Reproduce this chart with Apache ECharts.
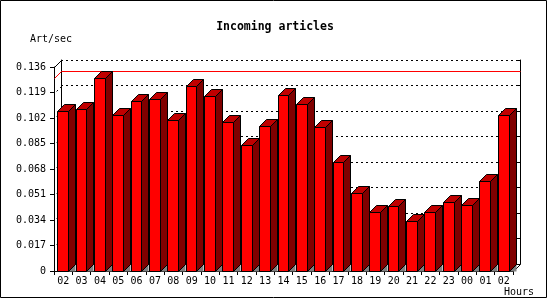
<!DOCTYPE html>
<html><head><meta charset="utf-8">
<script src="https://cdn.jsdelivr.net/npm/echarts@6/dist/echarts.min.js"></script>
<style>html,body{margin:0;padding:0;background:#fff}#c{width:550px;height:300px}</style>
</head><body><div id="c"></div>
<script>
const hours = ['02','03','04','05','06','07','08','09','10','11','12','13','14','15','16','17','18','19','20','21','22','23','00','01','02'];
const rates = [0.1067,0.1078,0.1285,0.1038,0.1131,0.1145,0.1005,0.1231,0.1165,0.0991,0.0838,0.0969,0.1171,0.1111,0.0958,0.0725,0.0518,0.0391,0.0431,0.0331,0.0391,0.0458,0.0438,0.0598,0.1038];
const yTickLabels = ['0','0.017','0.034','0.051','0.068','0.085','0.102','0.119','0.136'];
const yMin = 0, yMax = 0.136, yStep = 0.017;
const titleText = 'Incoming articles';
const yName = 'Art/sec';
const xName = 'Hours';

const D = 7;
const FONT = 'DejaVu Sans Mono';
const maxRate = Math.max(...rates);
const tickValues = yTickLabels.map(Number);
const px = v => Math.round(v) + 0.5;

const chart = echarts.init(document.getElementById('c'), null, {renderer: 'canvas'});

const option = {
  animation: false,
  backgroundColor: '#fff',
  title: {text: titleText, left: 'center', top: 21, padding: 0,
    textStyle: {fontFamily: FONT, fontWeight: 'bold', fontSize: 11.5, color: '#000'}},
  grid: [
    {left: 54, top: 67, right: 37, bottom: 29},
    {left: 61, top: 60, right: 30, bottom: 36}
  ],
  xAxis: [
    {type: 'category', gridIndex: 0, data: hours, boundaryGap: true,
     axisLine: {lineStyle: {color: '#000', width: 1}},
     axisTick: {show: true, length: 4, lineStyle: {color: '#000'}},
     axisLabel: {color: '#000', fontFamily: FONT, fontSize: 10, margin: 5, interval: 0},
     splitLine: {show: false}},
    {type: 'category', gridIndex: 1, data: hours, boundaryGap: true, position: 'top',
     axisLine: {lineStyle: {color: '#000', width: 1}},
     axisTick: {show: false}, axisLabel: {show: false}, splitLine: {show: false}}
  ],
  yAxis: [
    {type: 'value', gridIndex: 0, min: yMin, max: yMax, interval: yStep,
     axisLine: {show: true, lineStyle: {color: '#000'}},
     axisTick: {show: true, length: 4, lineStyle: {color: '#000'}},
     axisLabel: {color: '#000', fontFamily: FONT, fontSize: 10, margin: 8,
       formatter: v => yTickLabels[Math.round(v / yStep)]},
     splitLine: {show: false}},
    {type: 'value', gridIndex: 1, min: yMin, max: yMax, interval: yStep, position: 'left',
     axisLine: {show: true, lineStyle: {color: '#000'}},
     axisTick: {show: false}, axisLabel: {show: false},
     splitLine: {show: true, lineStyle: {color: '#000', width: 1, type: [2, 3]}}},
    {type: 'value', gridIndex: 1, min: yMin, max: yMax, interval: yStep, position: 'right',
     axisLine: {show: true, lineStyle: {color: '#000'}},
     axisTick: {show: true, inside: true, length: 3, lineStyle: {color: '#000'}},
     axisLabel: {show: false}, splitLine: {show: false}}
  ],
  graphic: [
    {type: 'rect', shape: {x: 0.5, y: 0.5, width: 546, height: 297}, style: {fill: null, stroke: '#000', lineWidth: 1}, z: 100},
    {type: 'text', x: 30, y: 39, style: {text: yName, fontFamily: FONT, fontSize: 10, fill: '#000', textAlign: 'left', textVerticalAlign: 'middle'}},
    {type: 'text', x: 534, y: 292, style: {text: xName, fontFamily: FONT, fontSize: 10, fill: '#000', textAlign: 'right', textVerticalAlign: 'middle'}}
  ],
  series: [
    {
      type: 'custom', xAxisIndex: 1, yAxisIndex: 1, z: 1, silent: true,
      data: tickValues.map(v => [0, v]),
      renderItem(params, api) {
        const v = api.value(1);
        const p = api.coord([0, v]);
        const band = api.size([1, 0])[0];
        const left = px(p[0] - band / 2);
        const y = px(p[1]);
        const children = [];
        if (v > 0) {
          children.push({type: 'line', shape: {x1: left, y1: y, x2: left - D, y2: y + D},
            style: {stroke: '#000', lineWidth: 1, lineDash: v >= yMax ? null : [2, 3]}});
        } else {
          const pr = api.coord([hours.length - 1, 0]);
          const right = px(pr[0] + band / 2);
          children.push({type: 'line', shape: {x1: right, y1: y, x2: right - D, y2: y + D},
            style: {stroke: '#000', lineWidth: 1}});
        }
        return {type: 'group', children};
      }
    },
    {
      type: 'custom', xAxisIndex: 1, yAxisIndex: 1, z: 3, silent: true,
      itemStyle: {color: '#ff0000'},
      data: [[0, maxRate]],
      renderItem(params, api) {
        const v = api.value(1);
        const p = api.coord([0, v]);
        const band = api.size([1, 0])[0];
        const left = px(p[0] - band / 2);
        const pr = api.coord([hours.length - 1, v]);
        const right = px(pr[0] + band / 2);
        const y = px(p[1]);
        return {type: 'group', children: [
          {type: 'line', shape: {x1: left, y1: y, x2: right, y2: y},
            style: {stroke: '#ff0000', lineWidth: 1}},
          {type: 'line', shape: {x1: left, y1: y, x2: left - D, y2: y + D},
            style: {stroke: '#ff0000', lineWidth: 1}}
        ]};
      }
    },
    {
      type: 'custom', xAxisIndex: 0, yAxisIndex: 0, z: 5, silent: true,
      data: rates.map((v, i) => [i, v]),
      renderItem(params, api) {
        const i = api.value(0), v = api.value(1);
        const top = api.coord([i, v]);
        const base = api.coord([i, 0]);
        const band = api.size([1, 0])[0];
        const start = top[0] - band / 2;
        const fl = px(start + band * 0.175);
        const fr = px(start + band * 0.76);
        const ty = px(top[1]);
        const by = px(base[1]);
        const st = {stroke: '#000', lineWidth: 1};
        return {type: 'group', children: [
          {type: 'polygon', shape: {points: [[fr, by], [fr + D, by - D], [fr + D, by]]},
            style: {fill: '#808080', stroke: null}},
          {type: 'polygon', shape: {points: [[fr, ty], [fr + D, ty - D], [fr + D, by - D], [fr, by]]},
            style: Object.assign({fill: '#800000'}, st)},
          {type: 'polygon', shape: {points: [[fl, ty], [fr, ty], [fr + D, ty - D], [fl + D, ty - D]]},
            style: Object.assign({fill: '#c00000'}, st)},
          {type: 'rect', shape: {x: fl, y: ty, width: fr - fl, height: by - ty},
            style: Object.assign({fill: '#ff0000'}, st)}
        ]};
      }
    }
  ]
};
chart.setOption(option);
</script>
</body></html>
